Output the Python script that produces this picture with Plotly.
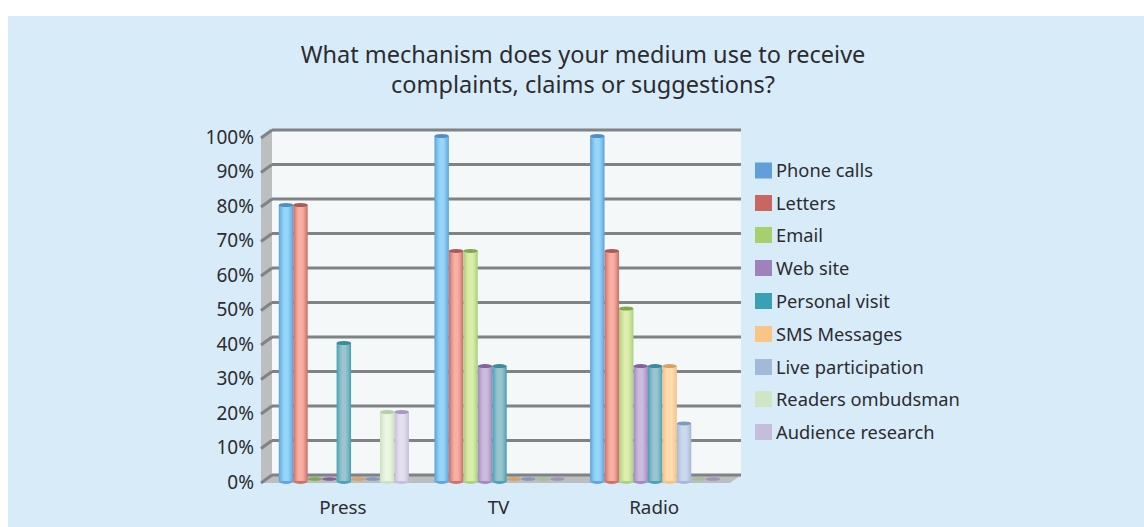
import plotly.graph_objects as go

WIDTH, HEIGHT = 1144, 527
FONT = "Noto Sans"
TEXT = "#2c2c30"

categories = ["Press", "TV", "Radio"]
series_names = ["Phone calls", "Letters", "Email", "Web site", "Personal visit",
                "SMS Messages", "Live participation", "Readers ombudsman", "Audience research"]
phone_calls = [80, 100, 100]
letters = [80, 66.7, 66.7]
email = [0, 66.7, 50]
web_site = [0, 33.3, 33.3]
personal_visit = [40, 33.3, 33.3]
sms_messages = [0, 0, 33.3]
live_participation = [0, 0, 16.7]
readers_ombudsman = [20, 0, 0]
audience_research = [20, 0, 0]
series_values = [phone_calls, letters, email, web_site, personal_visit,
                 sms_messages, live_participation, readers_ombudsman, audience_research]
y_ticks = list(range(0, 101, 10))
y_labels = [f"{v}%" for v in y_ticks]

legend_colors = ["#609fd9", "#c9665f", "#a5d06c", "#9f82bc", "#3ba0b4",
                 "#fbc487", "#a3b9da", "#cfe6c4", "#c6bcdc"]
edge_colors = ["#62a6dc", "#cf7269", "#add281", "#a48cc0", "#4ca3b6",
               "#f7c48c", "#a6bbdb", "#cde3c2", "#c8bfdd"]
light_colors = ["#95d5f8", "#f8afa4", "#dcedac", "#cbbcde", "#9cc4cf",
                "#fedcae", "#ccd9ec", "#ecf5e3", "#e5e0f0"]
cap_colors = ["#4f8fc4", "#a85a55", "#7fa850", "#7f629f", "#3a8a9c",
              "#d9a262", "#8199bd", "#b5cfa8", "#a898c2"]
disc_colors = ["#4f8fc4", "#a85a55", "#7fa850", "#7f629f", "#3a8a9c",
               "#d9a262", "#8199bd", "#a6bd9a", "#9f94b6"]

# Pixel layout
PLOT_L, PLOT_R, PLOT_T, PLOT_B = 266, 733, 130, 486
PX_PER_UNIT = 3.45
Y_MAX = 100 + (136 - PLOT_T) / PX_PER_UNIT
Y_MIN = -(PLOT_B - 481) / PX_PER_UNIT
BAR_W = 0.0929
STRIPS = [(1.0, 0.0), (0.88, 0.2), (0.76, 0.42), (0.62, 0.64), (0.48, 0.82), (0.32, 1.0)]


def px(x):
    return (x - PLOT_L) / (PLOT_R - PLOT_L)


def py(y):
    return (PLOT_B - y) / (PLOT_B - PLOT_T)


def mix(c1, c2, t):
    a = [int(c1[i:i + 2], 16) for i in (1, 3, 5)]
    b = [int(c2[i:i + 2], 16) for i in (1, 3, 5)]
    return "#" + "".join(f"{round(p + (q - p) * t):02x}" for p, q in zip(a, b))


def pixel_path(points):
    return "M" + " L".join(f"{px(x):.5f},{py(y):.5f}" for x, y in points) + " Z"


WALL = "#f5f8f8"
SIDE = "#bcbec0"
GRID = "#808285"
shapes = [
    dict(type="rect", xref="paper", yref="paper", x0=px(8), x1=px(WIDTH), y0=py(HEIGHT), y1=py(16),
         fillcolor="#d8ebf9", line_width=0, layer="below"),
    dict(type="rect", xref="paper", yref="paper", x0=px(272), x1=px(741), y0=py(475), y1=py(130),
         fillcolor=WALL, line_width=0, layer="below"),
    dict(type="path", xref="paper", yref="paper",
         path=pixel_path([(261, 138), (272, 130), (272, 475), (261, 483)]),
         fillcolor=SIDE, line_width=0, layer="below"),
    dict(type="path", xref="paper", yref="paper",
         path=pixel_path([(261, 483), (272, 475), (741, 475), (730, 483)]),
         fillcolor=SIDE, line_width=0, layer="below"),
]
for v in y_ticks:
    yb = 475 - v * PX_PER_UNIT
    shapes.append(dict(type="line", xref="paper", yref="paper", x0=px(272), x1=px(741), y0=py(yb), y1=py(yb),
                       line=dict(color=GRID, width=3), layer="below"))
    shapes.append(dict(type="line", xref="paper", yref="paper", x0=px(261), x1=px(272), y0=py(yb + 8), y1=py(yb),
                       line=dict(color=GRID, width=3), layer="below"))

traces = []
for s, (name, values) in enumerate(zip(series_names, series_values)):
    centers = [g + (s - 4) * BAR_W for g in range(len(categories))]
    for w, t in STRIPS:
        width = BAR_W * w
        off = -width / 2
        traces.append(go.Bar(x=centers, y=values, width=width, offset=off, name=name,
                             marker=dict(color=mix(edge_colors[s], light_colors[s], t), line_width=0),
                             showlegend=False, hovertemplate=name + ": %{y}%<extra></extra>"))
    for c, v in zip(centers, values):
        common = dict(type="circle", xref="x", yref="y", ysizemode="pixel", line_width=0,
                      x0=c - BAR_W / 2, x1=c + BAR_W / 2)
        if v > 0:
            shapes.append(dict(common, yanchor=0, y0=-3, y1=3, fillcolor=edge_colors[s], layer="below"))
            shapes.append(dict(common, yanchor=v, y0=-2, y1=2, fillcolor=cap_colors[s]))
        else:
            shapes.append(dict(common, yanchor=0, y0=0.3, y1=3.7, fillcolor=disc_colors[s]))

annotations = []
legend_rows = [170.5, 203, 235, 268, 301, 334, 367, 399, 432]
for name, color, y in zip(series_names, legend_colors, legend_rows):
    shapes.append(dict(type="rect", xref="paper", yref="paper", x0=px(755), x1=px(772),
                       y0=py(y + 8), y1=py(y - 8), fillcolor=color, line_width=0))
    annotations.append(dict(text=name, xref="paper", yref="paper", x=px(774), y=py(y - 1),
                            xanchor="left", yanchor="middle", showarrow=False,
                            font=dict(family=FONT, size=18.3, color=TEXT)))

fig = go.Figure(traces)
fig.update_layout(
    width=WIDTH, height=HEIGHT, autosize=False,
    paper_bgcolor="white", plot_bgcolor="rgba(0,0,0,0)",
    margin=dict(l=PLOT_L, r=WIDTH - PLOT_R, t=PLOT_T, b=HEIGHT - PLOT_B, pad=0, autoexpand=False),
    barmode="overlay", showlegend=False,
    font=dict(family=FONT, size=18, color=TEXT),
    title=dict(text="What mechanism does your medium use to receive<br>complaints, claims or suggestions?",
               x=583 / WIDTH, xanchor="center", y=1 - 62.5 / HEIGHT, yanchor="middle",
               font=dict(family=FONT, size=23.5, color=TEXT)),
    xaxis=dict(range=[-0.5, 2.5], tickmode="array", tickvals=list(range(len(categories))),
               ticktext=categories, showgrid=False, zeroline=False, showline=False,
               ticks="", ticklabelstandoff=8, ticklabelshift=-1, fixedrange=True, tickfont=dict(size=18.8)),
    yaxis=dict(range=[Y_MIN, Y_MAX], tickmode="array", tickvals=y_ticks, ticktext=y_labels,
               showgrid=False, zeroline=False, showline=False, ticks="",
               ticklabelstandoff=11, ticklabelshift=1, fixedrange=True, tickfont=dict(size=19)),
    shapes=shapes, annotations=annotations,
)
fig.write_html("out.html", config=dict(displayModeBar=False),
               post_script="document.body.style.margin='0';document.body.style.overflow='hidden';")
